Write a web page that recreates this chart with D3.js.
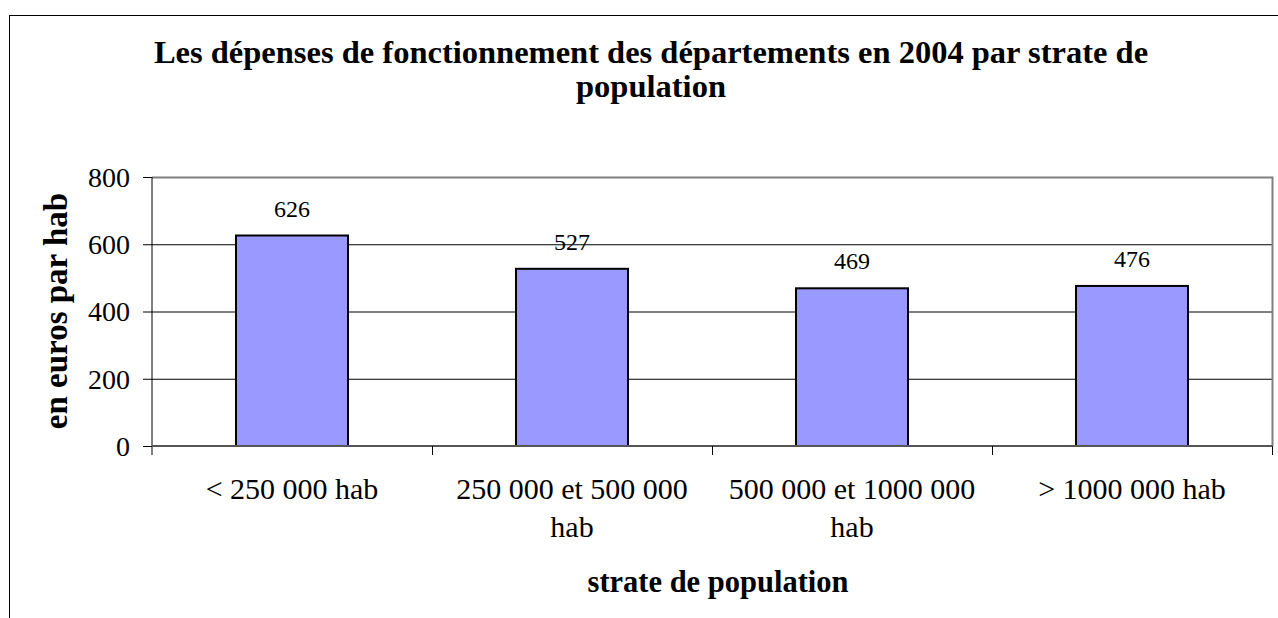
<!DOCTYPE html>
<html>
<head>
<meta charset="utf-8">
<script src="https://cdn.jsdelivr.net/npm/d3@7/dist/d3.min.js"></script>
<style>
  html, body { margin: 0; padding: 0; background: #fff; overflow: hidden; }
  svg { display: block; }
</style>
</head>
<body>
<svg id="chart" width="1278" height="618"></svg>
<script>
// ---- data ----
var categories = [["< 250 000 hab"], ["250 000 et 500 000", "hab"], ["500 000 et 1000 000", "hab"], ["> 1000 000 hab"]];
var values = [626, 527, 469, 476];
var yTicks = [0, 200, 400, 600, 800];
var titleLines = ["Les dépenses de fonctionnement des départements en 2004 par strate de", "population"];
var yTitle = "en euros par hab";
var xTitle = "strate de population";

var svg = d3.select("#chart");
var plot = { left: 152, right: 1272, top: 177, bottom: 446 };
var serif = "'Liberation Serif', 'Times New Roman', serif";

// outer frame: left and top edges only
svg.append("line")
  .attr("x1", 9.5).attr("x2", 9.5).attr("y1", 15).attr("y2", 618)
  .style("stroke", "#000");
svg.append("line")
  .attr("x1", 9).attr("x2", 1278).attr("y1", 15.5).attr("y2", 15.5)
  .style("stroke", "#000");

//=========== scales
var x = d3.scaleBand().domain(d3.range(categories.length))
  .range([plot.left, plot.right]).paddingInner(0.6).paddingOuter(0.3);
var xEdge = d3.scaleLinear().domain([0, categories.length]).range([plot.left, plot.right]);
var y = d3.scaleLinear().domain([0, 800]).range([plot.bottom, plot.top]);

//=========== gridlines
svg.append("g")
  .selectAll("line").data(yTicks.filter(d => d > 0 && d < 800)).join("line")
  .attr("x1", plot.left).attr("x2", plot.right)
  .attr("y1", d => y(d) + 0.5).attr("y2", d => y(d) + 0.5)
  .style("stroke", "#000").style("stroke-width", 1);

// plot border top/right (gray)
svg.append("path")
  .attr("d", `M${plot.left},${plot.top + 0.5}H${plot.right + 0.5}V${plot.bottom}`)
  .style("fill", "none").style("stroke", "#808080").style("stroke-width", 2);

//=========== bars
svg.append("g")
  .selectAll("rect").data(values).join("rect")
  .attr("x", (d, i) => x(i))
  .attr("y", d => y(d))
  .attr("width", x.bandwidth())
  .attr("height", d => y(0) - y(d))
  .style("fill", "#9999ff")
  .style("stroke", "#000")
  .style("stroke-width", 2);

// value labels
svg.append("g")
  .selectAll("text").data(values).join("text")
  .attr("x", (d, i) => x(i) + x.bandwidth() / 2)
  .attr("y", d => y(d) - 19)
  .style("text-anchor", "middle")
  .style("font-family", serif)
  .style("font-size", "24px")
  .text(d => d);

//=========== axes
var yAxis = svg.append("g")
  .attr("transform", `translate(${plot.left},0)`)
  .call(d3.axisLeft(y).tickValues(yTicks).tickSize(9).tickPadding(13));
yAxis.select(".domain").attr("d", `M0,${plot.top}V${plot.bottom + 9}`).style("stroke", "#000");
yAxis.selectAll("text").style("font-family", serif).style("font-size", "28px").attr("dy", "0.33em");

var xAxis = svg.append("g")
  .attr("transform", `translate(0,${plot.bottom})`);
xAxis.append("line")
  .attr("x1", plot.left).attr("x2", plot.right)
  .style("stroke", "#555").style("stroke-width", 2);
xAxis.selectAll("line.tick").data(d3.range(1, categories.length + 1)).join("line")
  .attr("class", "tick")
  .attr("x1", d => xEdge(d) + 0.5).attr("x2", d => xEdge(d) + 0.5)
  .attr("y1", 0).attr("y2", 9)
  .style("stroke", "#000");

var catLabels = xAxis.selectAll("text.cat").data(categories).join("text")
  .attr("class", "cat")
  .attr("x", (d, i) => xEdge(i + 0.5))
  .attr("y", 53)
  .style("text-anchor", "middle")
  .style("font-family", serif)
  .style("font-size", "30px");
catLabels.selectAll("tspan").data(d => d).join("tspan")
  .attr("x", function() { return d3.select(this.parentNode).attr("x"); })
  .attr("dy", (d, i) => i === 0 ? 0 : 38)
  .text(d => d);

//=========== titles
svg.append("text")
  .attr("x", 651).attr("y", 63)
  .style("text-anchor", "middle")
  .style("font-family", serif)
  .style("font-weight", "bold")
  .style("font-size", "32.5px")
  .selectAll("tspan").data(titleLines).join("tspan")
  .attr("x", 651)
  .attr("dy", (d, i) => i === 0 ? 0 : 34)
  .text(d => d);

svg.append("text")
  .attr("transform", "translate(67,311) rotate(-90)")
  .style("text-anchor", "middle")
  .style("font-family", serif)
  .style("font-weight", "bold")
  .style("font-size", "33px")
  .text(yTitle);

svg.append("text")
  .attr("x", 718).attr("y", 592)
  .style("text-anchor", "middle")
  .style("font-family", serif)
  .style("font-weight", "bold")
  .style("font-size", "30.5px")
  .text(xTitle);
</script>
</body>
</html>
